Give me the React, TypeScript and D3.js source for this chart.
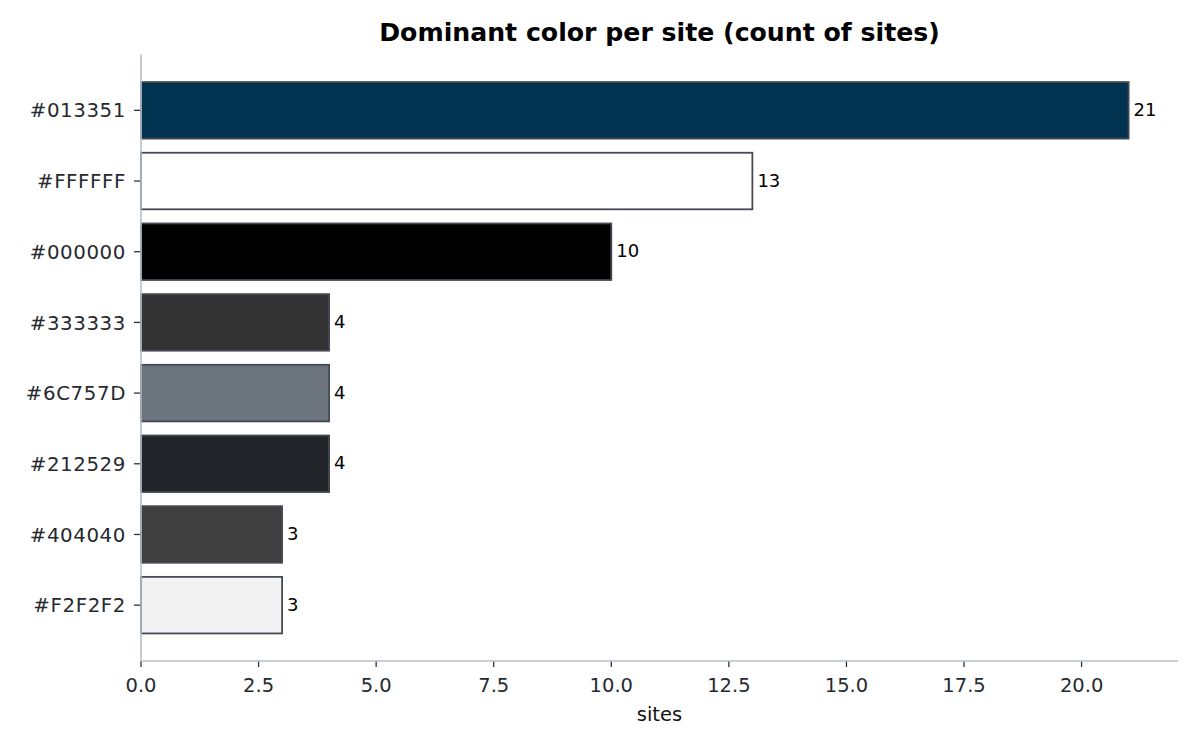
import { useEffect } from 'react'
import * as d3 from 'd3'

const colors = ['#013351', '#FFFFFF', '#000000', '#333333', '#6C757D', '#212529', '#404040', '#F2F2F2']
const counts = [21, 13, 10, 4, 4, 4, 3, 3]
const xTicks = [0, 2.5, 5, 7.5, 10, 12.5, 15, 17.5, 20]

const W = 1200
const H = 750
const margin = { top: 54.5, right: 22, bottom: 89, left: 141 }
const font = 'DejaVu Sans, sans-serif'

export default function App() {
  useEffect(() => {
    document.body.style.margin = '0'
  }, [])

  const innerW = W - margin.left - margin.right
  const innerH = H - margin.top - margin.bottom

  const xMax = d3.max(counts)! * 1.05
  const x = d3.scaleLinear().domain([0, xMax]).range([0, innerW])
  const n = colors.length
  const pad = 0.05 * (n - 1 + 0.8)
  const y = d3.scaleLinear().domain([-0.4 - pad, n - 1 + 0.4 + pad]).range([0, innerH])
  const barH = y(0.8) - y(0)

  return (
    <svg width={W} height={H} style={{ position: 'absolute', left: 0, top: 0, background: '#fff' }} fontFamily={font}>
      <text x={margin.left + innerW / 2} y={41} textAnchor="middle" fontSize={25.2} fontWeight="bold" fill="#000">
        Dominant color per site (count of sites)
      </text>
      <g transform={`translate(${margin.left},${margin.top})`}>
        {colors.map((c, i) => (
          <g key={c}>
            <rect
              x={x(0)}
              y={y(i - 0.4)}
              width={x(counts[i]) - x(0)}
              height={barH}
              fill={c}
              stroke="#454a52"
              strokeWidth={1.8}
            />
            <text x={x(counts[i]) + 5} y={y(i) - 1} dominantBaseline="central" fontSize={18} fill="#000">
              {counts[i]}
            </text>
            <line x1={-7} x2={0} y1={y(i)} y2={y(i)} stroke="#2f333a" strokeWidth={1.3} />
            <text x={-15} y={y(i)} dy="0.36em" textAnchor="end" fontSize={19.8} letterSpacing={0.6} fill="#262a30">
              {c}
            </text>
          </g>
        ))}
        {xTicks.map(t => (
          <g key={t} transform={`translate(${x(t)},${innerH})`}>
            <line y1={0} y2={6} stroke="#2f333a" strokeWidth={1.3} />
            <text y={31} textAnchor="middle" fontSize={19.5} fill="#262a30">
              {t.toFixed(1)}
            </text>
          </g>
        ))}
        <line x1={0} x2={0} y1={0} y2={innerH} stroke="#b8bec8" strokeWidth={1.6} />
        <line x1={0} x2={innerW} y1={innerH} y2={innerH} stroke="#b8bec8" strokeWidth={1.6} />
        <text x={innerW / 2} y={innerH + 60} textAnchor="middle" fontSize={19.5} fill="#111">
          sites
        </text>
      </g>
    </svg>
  )
}
